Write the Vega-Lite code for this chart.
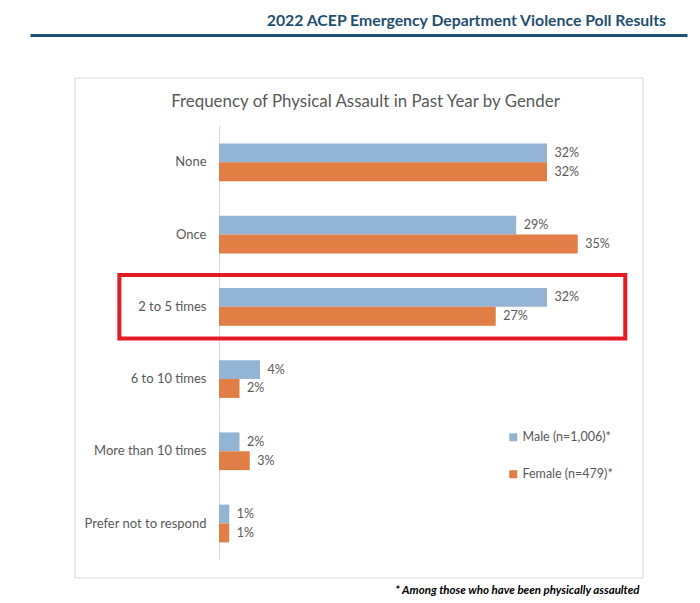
{
  "$schema": "https://vega.github.io/schema/vega-lite/v6.json",
  "width": 657,
  "height": 500,
  "autosize": "none",
  "padding": {"left": 30, "top": 78, "right": 13, "bottom": 25},
  "background": "white",
  "config": {"view": {"stroke": null}},
  "title": {
    "text": "2022 ACEP Emergency Department Violence Poll Results",
    "anchor": "end",
    "frame": "group",
    "dx": -21,
    "offset": -7,
    "baseline": "alphabetic",
    "font": "Lato",
    "fontSize": 15.8,
    "fontWeight": "bold",
    "color": "#1F4F70"
  },
  "data": {
    "values": [
      {"category": "None", "gender": "Male (n=1,006)*", "pct": 0.32},
      {"category": "None", "gender": "Female (n=479)*", "pct": 0.32},
      {"category": "Once", "gender": "Male (n=1,006)*", "pct": 0.29},
      {"category": "Once", "gender": "Female (n=479)*", "pct": 0.35},
      {"category": "2 to 5 times", "gender": "Male (n=1,006)*", "pct": 0.32},
      {"category": "2 to 5 times", "gender": "Female (n=479)*", "pct": 0.27},
      {"category": "6 to 10 times", "gender": "Male (n=1,006)*", "pct": 0.04},
      {"category": "6 to 10 times", "gender": "Female (n=479)*", "pct": 0.02},
      {"category": "More than 10 times", "gender": "Male (n=1,006)*", "pct": 0.02},
      {"category": "More than 10 times", "gender": "Female (n=479)*", "pct": 0.03},
      {"category": "Prefer not to respond", "gender": "Male (n=1,006)*", "pct": 0.01},
      {"category": "Prefer not to respond", "gender": "Female (n=479)*", "pct": 0.01}
    ]
  },
  "layer": [
    {
      "transform": [{"filter": "datum.category === 'None' && datum.gender === 'Male (n=1,006)*'"}],
      "mark": {"type": "rect", "fillOpacity": 0, "stroke": "#D9D9D9", "strokeWidth": 1},
      "encoding": {
        "x": {"datum": -0.14049, "type": "quantitative"},
        "x2": {"datum": 0.41366}
      }
    },
    {
      "transform": [{"filter": "datum.gender === 'Male (n=1,006)*'"}],
      "mark": {"type": "bar", "color": "#D9D9D9"},
      "encoding": {
        "y": {"field": "category", "type": "nominal"},
        "x": {"datum": 0, "type": "quantitative"},
        "x2": {"datum": 0.001}
      }
    },
    {
      "mark": {"type": "bar"},
      "encoding": {
        "y": {
          "field": "category",
          "type": "nominal",
          "scale": {
            "domain": ["None", "Once", "2 to 5 times", "6 to 10 times", "More than 10 times", "Prefer not to respond"],
            "paddingInner": 0,
            "paddingOuter": 0.461,
            "align": 0.724
          },
          "axis": {
            "orient": "left",
            "offset": -189,
            "domain": false,
            "ticks": false,
            "grid": false,
            "labelPadding": 13,
            "labelFont": "Lato",
            "labelFontSize": 13,
            "labelColor": "#595959",
            "title": "* Among those who have been physically assaulted",
            "titleAngle": 0,
            "titleX": 420,
            "titleY": 515,
            "titleAlign": "right",
            "titleBaseline": "alphabetic",
            "titleFont": "Lato",
            "titleFontSize": 11.5,
            "titleFontStyle": "italic",
            "titleFontWeight": "bold",
            "titleColor": "#000000"
          }
        },
        "yOffset": {
          "field": "gender",
          "type": "nominal",
          "scale": {"domain": ["Male (n=1,006)*", "Female (n=479)*"], "paddingInner": 0, "paddingOuter": 0.915}
        },
        "x": {
          "field": "pct",
          "type": "quantitative",
          "scale": {"domain": [-0.18439, 0.45659], "nice": false, "zero": false},
          "axis": {
            "orient": "top",
            "offset": 43,
            "domain": true,
            "domainColor": "#1F4F70",
            "domainWidth": 3,
            "ticks": false,
            "labels": false,
            "grid": false,
            "title": "Frequency of Physical Assault in Past Year by Gender",
            "titleX": 335,
            "titleY": 71,
            "titleAlign": "center",
            "titleBaseline": "alphabetic",
            "titleFont": "Lato",
            "titleFontSize": 16.9,
            "titleFontWeight": "normal",
            "titleColor": "#595959"
          }
        },
        "x2": {"datum": 0},
        "color": {
          "field": "gender",
          "type": "nominal",
          "scale": {"domain": ["Male (n=1,006)*", "Female (n=479)*"], "range": ["#94B4D4", "#E07E45"]},
          "legend": {
            "title": null,
            "orient": "none",
            "legendX": 477,
            "legendY": 353,
            "symbolType": "square",
            "symbolSize": 64,
            "symbolStrokeWidth": 0,
            "labelFont": "Lato",
            "labelFontSize": 12.5,
            "labelColor": "#595959",
            "labelOffset": 3,
            "rowPadding": 24,
            "padding": 0
          }
        }
      }
    },
    {
      "mark": {"type": "text", "align": "left", "baseline": "middle", "dx": 7.5, "font": "Lato", "fontSize": 12.5, "color": "#595959"},
      "encoding": {
        "y": {"field": "category", "type": "nominal"},
        "yOffset": {"field": "gender", "type": "nominal"},
        "x": {"field": "pct", "type": "quantitative"},
        "text": {"field": "pct", "format": ".0%"}
      }
    },
    {
      "transform": [{"filter": "datum.category === '2 to 5 times' && datum.gender === 'Male (n=1,006)*'"}],
      "mark": {"type": "bar", "height": {"band": 0.88}, "fillOpacity": 0, "stroke": "#E31B23", "strokeWidth": 4},
      "encoding": {
        "y": {"field": "category", "type": "nominal"},
        "x": {"datum": -0.0972, "type": "quantitative"},
        "x2": {"datum": 0.3964}
      }
    }
  ]
}
